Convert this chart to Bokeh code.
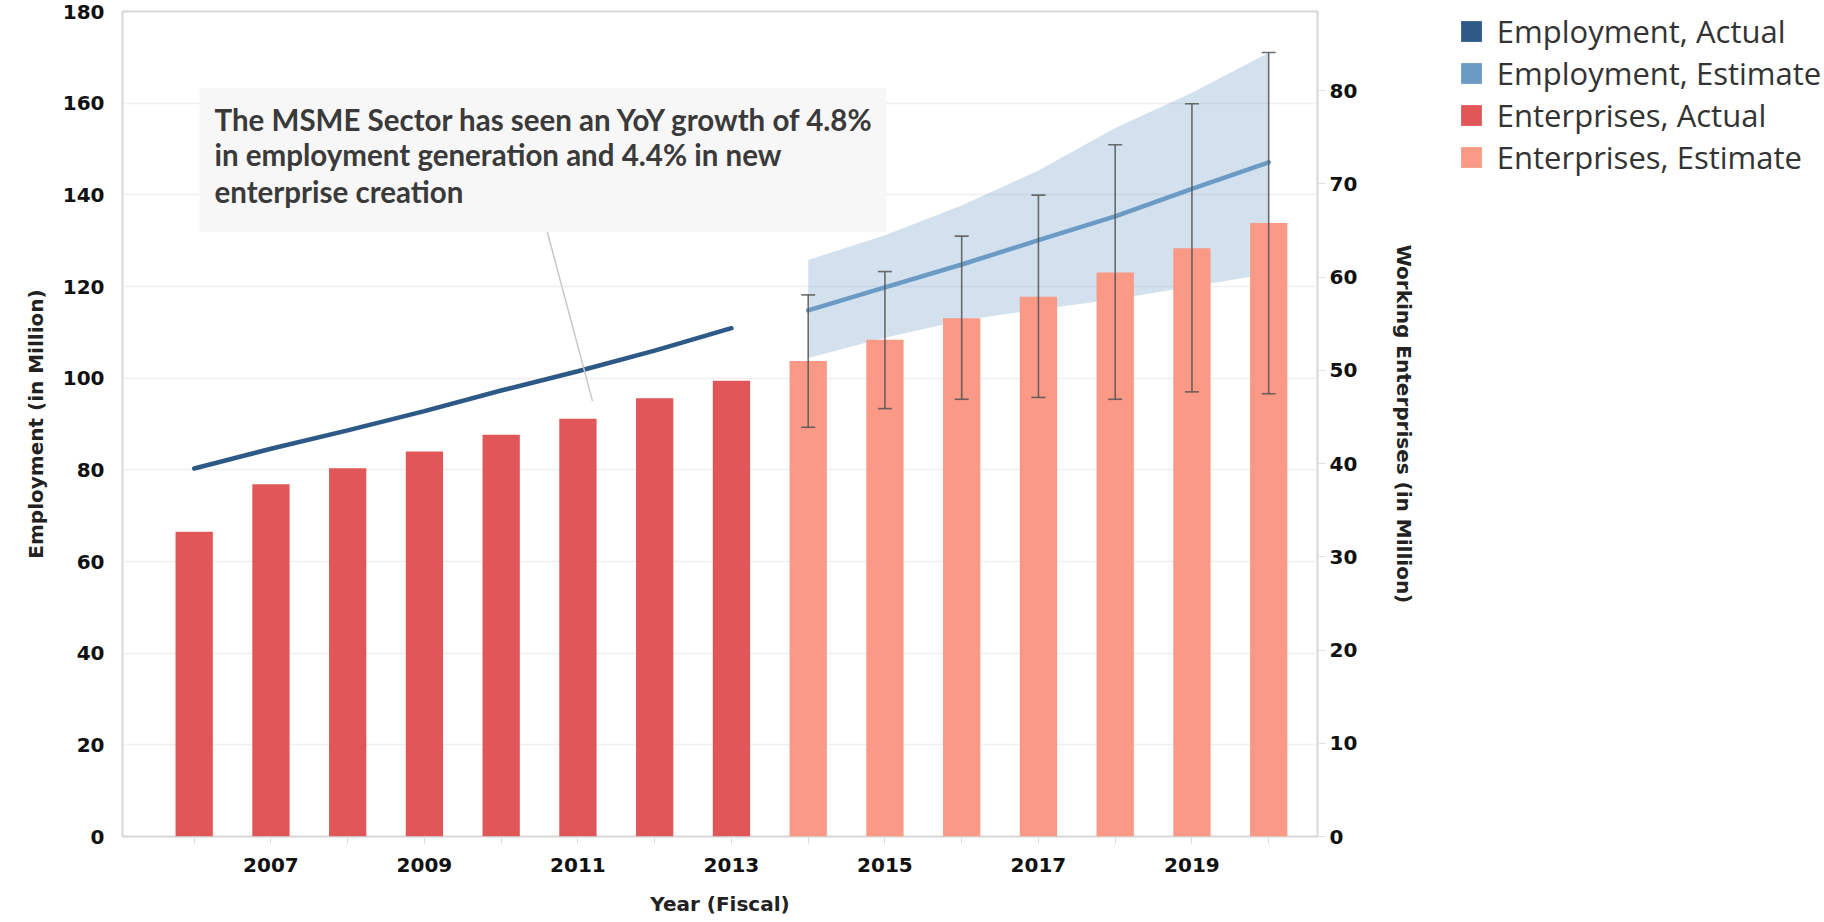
from bokeh.plotting import figure
from bokeh.models import (Range1d, LinearAxis, Legend, LegendItem, Whisker, TeeHead,
                          ColumnDataSource, FixedTicker, BoxAnnotation, Label)
from bokeh.embed import file_html
from bokeh.resources import INLINE

# ---------------- data ----------------
years_actual = [2006, 2007, 2008, 2009, 2010, 2011, 2012, 2013]
employment_actual = [80.3, 84.6, 88.6, 92.8, 97.3, 101.5, 106.0, 110.9]
enterprises_actual = [32.7, 37.8, 39.5, 41.3, 43.1, 44.8, 47.0, 48.9]

years_estimate = [2014, 2015, 2016, 2017, 2018, 2019, 2020]
employment_estimate = [114.8, 119.8, 124.8, 130.1, 135.3, 141.3, 147.1]
employment_est_low = [104.4, 108.8, 112.6, 115.0, 117.2, 120.0, 122.8]
employment_est_high = [125.8, 131.2, 137.7, 145.3, 154.6, 162.3, 171.0]
enterprises_estimate = [51.0, 53.3, 55.6, 57.9, 60.5, 63.1, 65.8]
enterprises_err_low = [43.9, 45.9, 46.9, 47.1, 46.9, 47.7, 47.5]
enterprises_err_high = [58.1, 60.6, 64.4, 68.8, 74.2, 78.6, 84.1]

x_tick_labels = [2007, 2009, 2011, 2013, 2015, 2017, 2019]
left_ticks = [0, 20, 40, 60, 80, 100, 120, 140, 160, 180]
right_ticks = [0, 10, 20, 30, 40, 50, 60, 70, 80]

annotation_lines = [
    "The MSME Sector has seen an YoY growth of 4.8%",
    "in employment generation and 4.4% in new",
    "enterprise creation",
]

# ---------------- colours / fonts ----------------
C_EMP_ACT = "#2c5985"
C_EMP_EST = "#6b9bc4"
C_ENT_ACT = "#e15759"
C_ENT_EST = "#fa9985"
TICK_FONT = "DejaVu Sans"
TEXT_COLOR = "#111111"
BORDER = "#d6d6d6"

p = figure(frame_width=1195, frame_height=825,
           x_range=Range1d(2005.066, 2020.636), y_range=Range1d(0, 180),
           output_backend="svg", toolbar_location=None,
           min_border_left=122, min_border_top=11, min_border_bottom=84,
           min_border_right=0)
p.extra_y_ranges = {"right": Range1d(0, 88.5)}

p.outline_line_color = BORDER
p.outline_line_width = 2
p.background_fill_color = "white"
p.border_fill_color = "white"
p.xgrid.grid_line_color = None
p.ygrid.grid_line_color = "#efefef"
p.ygrid.grid_line_width = 1.5
p.ygrid.ticker = FixedTicker(ticks=left_ticks)

# ---------------- glyphs ----------------
src_est = ColumnDataSource(dict(x=years_estimate, emp=employment_estimate,
                                lo=employment_est_low, hi=employment_est_high,
                                ent=enterprises_estimate,
                                elo=enterprises_err_low, ehi=enterprises_err_high))
src_act = ColumnDataSource(dict(x=years_actual, emp=employment_actual,
                                ent=enterprises_actual))

p.varea(x="x", y1="lo", y2="hi", source=src_est, fill_color=C_EMP_EST, fill_alpha=0.3)

bars_act = p.vbar(x="x", top="ent", width=0.486, source=src_act, y_range_name="right",
                  fill_color=C_ENT_ACT, line_color=None)
bars_est = p.vbar(x="x", top="ent", width=0.486, source=src_est, y_range_name="right",
                  fill_color=C_ENT_EST, line_color=None)

p.line(x="x", y="emp", source=src_act, line_color=C_EMP_ACT, line_width=4.5, line_cap="round")
p.line(x="x", y="emp", source=src_est, line_color=C_EMP_EST, line_width=4.5, line_cap="round")

whisk = Whisker(base="x", upper="ehi", lower="elo", source=src_est, y_range_name="right",
                line_color="#555555", line_alpha=0.85, line_width=1.6, level="annotation",
                upper_head=TeeHead(size=14, line_color="#555555", line_alpha=0.85, line_width=1.6),
                lower_head=TeeHead(size=14, line_color="#555555", line_alpha=0.85, line_width=1.6))
p.add_layout(whisk)

# zero-height renderers that only supply square legend swatches for the employment series
swatch_src = ColumnDataSource(dict(x=[2010], top=[0], bottom=[0]))
dummy_emp_act = p.vbar(x="x", top="top", bottom="bottom", width=0.5, source=swatch_src,
                       fill_color=C_EMP_ACT, line_color=None)
dummy_emp_est = p.vbar(x="x", top="top", bottom="bottom", width=0.5, source=swatch_src,
                       fill_color=C_EMP_EST, line_color=None)

# ---------------- annotation ----------------
box = BoxAnnotation(left=2006.07, right=2015.02, bottom=131.96, top=163.26,
                    fill_color="#f7f7f7", fill_alpha=1.0, line_color=None, level="underlay")
p.add_layout(box)
p.segment(x0=[2010.60], y0=[131.96], x1=[2011.19], y1=[95.0], line_color="#c8c8c8", line_width=1.5)
for txt, yy in zip(annotation_lines, [156.5, 148.7, 140.7]):
    p.add_layout(Label(x=2006.265, y=yy, text=txt, text_font="Lato", text_font_style="bold",
                       text_font_size="29.5px", text_color="#3a3a3a", text_baseline="middle",
                       text_align="left"))

# ---------------- axes ----------------
xa = p.xaxis[0]
xa.ticker = FixedTicker(ticks=x_tick_labels, minor_ticks=list(range(2006, 2021)))
xa.axis_line_color = None
xa.major_tick_out = 7
xa.major_tick_in = 0
xa.minor_tick_out = 7
xa.minor_tick_in = 0
xa.major_tick_line_color = "#dcdcdc"
xa.minor_tick_line_color = "#dcdcdc"
xa.major_label_standoff = 14
xa.major_label_text_font = TICK_FONT
xa.major_label_text_font_style = "bold"
xa.major_label_text_font_size = "20px"
xa.major_label_text_color = TEXT_COLOR
xa.axis_label = "Year (Fiscal)"
xa.axis_label_text_font = TICK_FONT
xa.axis_label_text_font_style = "bold"
xa.axis_label_text_font_size = "20px"
xa.axis_label_text_color = "#222222"
xa.axis_label_standoff = 17

ya = p.yaxis[0]
ya.ticker = FixedTicker(ticks=left_ticks)
ya.axis_line_color = None
ya.major_tick_line_color = None
ya.minor_tick_line_color = None
ya.major_label_standoff = 12
ya.major_label_text_font = TICK_FONT
ya.major_label_text_font_style = "bold"
ya.major_label_text_font_size = "20px"
ya.major_label_text_color = TEXT_COLOR
ya.axis_label = "Employment (in Million)"
ya.axis_label_text_font = TICK_FONT
ya.axis_label_text_font_style = "bold"
ya.axis_label_text_font_size = "20px"
ya.axis_label_text_color = "#222222"
ya.axis_label_standoff = 12

ra = LinearAxis(y_range_name="right", ticker=FixedTicker(ticks=right_ticks))
ra.axis_line_color = None
ra.major_tick_out = 8
ra.major_tick_in = 0
ra.major_tick_line_color = "#e0e0e0"
ra.minor_tick_line_color = None
ra.major_label_standoff = 4
ra.major_label_text_font = TICK_FONT
ra.major_label_text_font_style = "bold"
ra.major_label_text_font_size = "20px"
ra.major_label_text_color = TEXT_COLOR
ra.axis_label = "Working Enterprises (in Million)"
ra.axis_label_text_font = TICK_FONT
ra.axis_label_text_font_style = "bold"
ra.axis_label_text_font_size = "20px"
ra.axis_label_text_color = "#222222"
ra.axis_label_standoff = 32
p.add_layout(ra, "right")

# ---------------- legend ----------------
legend = Legend(items=[
    LegendItem(label="Employment, Actual", renderers=[dummy_emp_act]),
    LegendItem(label="Employment, Estimate", renderers=[dummy_emp_est]),
    LegendItem(label="Enterprises, Actual", renderers=[bars_act]),
    LegendItem(label="Enterprises, Estimate", renderers=[bars_est]),
], location=(-198, 658))
legend.label_text_font = "Open Sans"
legend.label_text_font_size = "31px"
legend.label_text_color = "#333333"
legend.glyph_width = 26
legend.glyph_height = 26
legend.label_height = 26
legend.spacing = 0
legend.padding = 6
legend.margin = 0
legend.label_standoff = 13
legend.border_line_color = None
legend.background_fill_alpha = 0
p.add_layout(legend, "right")

open("out.html", "w").write(file_html(p, INLINE))
